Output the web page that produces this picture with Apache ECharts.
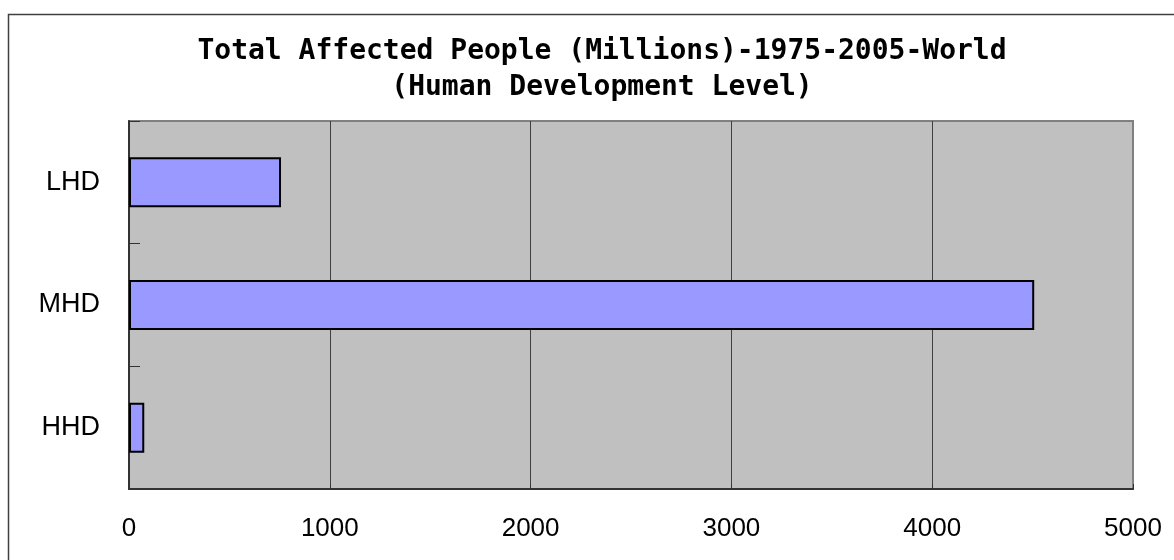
<!DOCTYPE html>
<html>
<head>
<meta charset="utf-8">
<script src="https://cdn.jsdelivr.net/npm/echarts@6/dist/echarts.min.js"></script>
<style>
  html, body { margin: 0; padding: 0; background: #fff; }
  #main { width: 1174px; height: 560px; }
</style>
</head>
<body>
<div id="main"></div>
<script>
// 数据
var categories = ['HHD', 'MHD', 'LHD'];
var affected = [76, 4508, 757];
var xTicks = [0, 1000, 2000, 3000, 4000, 5000];

var myChart = echarts.init(document.getElementById('main'));

myChart.setOption({
  backgroundColor: '#ffffff',
  animation: false,
  title: {
    text: 'Total Affected People (Millions)-1975-2005-World\n(Human Development Level)',
    left: 597,
    textAlign: 'center',
    top: 29,
    textStyle: {
      fontFamily: 'DejaVu Sans Mono',
      fontWeight: 'bold',
      fontSize: 28,
      lineHeight: 36,
      color: '#000'
    }
  },
  graphic: [{
    type: 'rect',
    shape: { x: 8.5, y: 14.5, width: 1200, height: 600 },
    style: { fill: 'none', stroke: '#404040', lineWidth: 1.5 },
    silent: true
  }],
  grid: {
    left: 129,
    right: 41,
    top: 121,
    bottom: 71,
    show: true,
    backgroundColor: '#c0c0c0',
    borderColor: '#808080',
    borderWidth: 2
  },
  xAxis: {
    type: 'value',
    min: xTicks[0],
    max: xTicks[xTicks.length - 1],
    interval: 1000,
    axisLine: { show: true, lineStyle: { color: '#333', width: 2 } },
    axisTick: { show: true, inside: true, length: 5, lineStyle: { color: '#333' } },
    axisLabel: {
      margin: 27,
      fontFamily: 'Liberation Sans',
      fontSize: 26,
      color: '#000',
      formatter: function (v) { return String(v); }
    },
    splitLine: {
      show: true,
      lineStyle: { color: ['#808080', '#404040', '#404040', '#404040', '#404040', '#808080'], width: 1 }
    }
  },
  yAxis: {
    type: 'category',
    data: categories,
    axisLine: { show: true, lineStyle: { color: '#333', width: 2 } },
    axisTick: { show: true, inside: true, length: 11, lineStyle: { color: '#333' } },
    axisLabel: {
      margin: 29,
      fontFamily: 'Liberation Sans',
      fontSize: 27,
      color: '#000'
    },
    splitLine: { show: false }
  },
  series: [{
    name: 'Total Affected',
    type: 'bar',
    data: affected,
    barWidth: 50,
    itemStyle: {
      color: '#9999ff',
      borderColor: '#000',
      borderWidth: 2
    }
  }]
});
</script>
</body>
</html>
